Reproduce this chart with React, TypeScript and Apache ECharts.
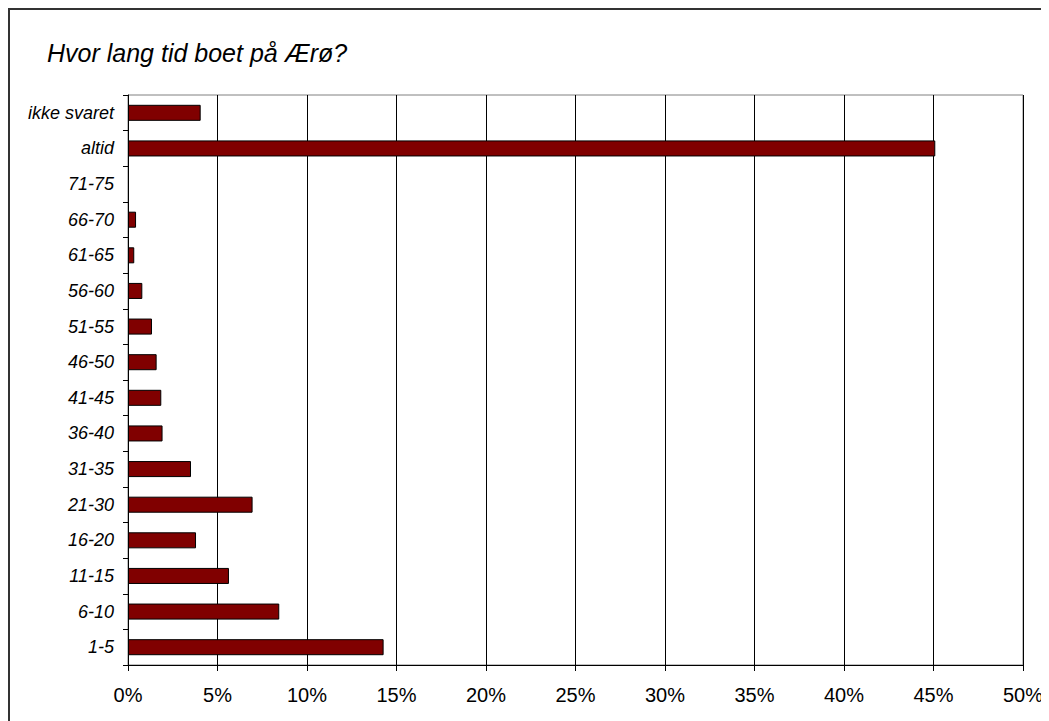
import React, { useEffect, useRef } from "react";
import * as echarts from "echarts";

const titleText = "Hvor lang tid boet på Ærø?";
const categories = [
  "1-5", "6-10", "11-15", "16-20", "21-30", "31-35", "36-40", "41-45",
  "46-50", "51-55", "56-60", "61-65", "66-70", "71-75", "altid", "ikke svaret",
];
const shares = [
  14.28, 8.45, 5.64, 3.8, 6.96, 3.52, 1.93, 1.86,
  1.6, 1.34, 0.8, 0.35, 0.45, 0, 45.1, 4.06,
];
const xMin = 0;
const xMax = 50;
const xStep = 5;

export default function App() {
  const ref = useRef<HTMLDivElement>(null);
  useEffect(() => {
    if (!ref.current) return;
    const chart = echarts.init(ref.current, undefined, { renderer: "svg" });
    const font = "'Liberation Sans', Arial, sans-serif";
    chart.setOption({
      animation: false,
      backgroundColor: "#ffffff",
      title: {
        text: titleText,
        left: 32,
        top: 25,
        textStyle: {
          fontFamily: font,
          fontStyle: "italic",
          fontWeight: "normal",
          fontSize: 25,
          color: "#000",
        },
      },
      grid: {
        left: 118,
        top: 85,
        right: 26,
        bottom: 56,
        show: true,
        borderColor: "#808080",
        borderWidth: 1,
        backgroundColor: "#fff",
      },
      xAxis: {
        type: "value",
        min: xMin,
        max: xMax,
        interval: xStep,
        axisLine: { show: true, lineStyle: { color: "#000", width: 1 } },
        axisTick: { show: true, length: 6, lineStyle: { color: "#000" } },
        splitLine: { show: true, lineStyle: { color: "#000", width: 1 } },
        axisLabel: {
          formatter: "{value}%",
          fontFamily: font,
          fontSize: 20,
          color: "#000",
          margin: 20,
        },
      },
      yAxis: {
        type: "category",
        data: categories,
        axisLine: { show: true, lineStyle: { color: "#000", width: 1 } },
        axisTick: { show: true, length: 5, lineStyle: { color: "#000" } },
        axisLabel: {
          fontFamily: font,
          fontStyle: "italic",
          fontSize: 18,
          color: "#000",
          margin: 14,
        },
      },
      series: [
        {
          type: "bar",
          data: shares.map((v) =>
            v === 0 ? { value: v, itemStyle: { borderWidth: 0 } } : v
          ),
          barWidth: "45%",
          itemStyle: { color: "#800000", borderColor: "#000", borderWidth: 1 },
        },
      ],
    });
    return () => chart.dispose();
  }, []);
  return (
    <div
      style={{
        width: 1041,
        height: 713,
        boxSizing: "border-box",
        borderLeft: "2px solid #333",
        borderTop: "2px solid #333",
      }}
    >
      <div ref={ref} style={{ width: 1039, height: 711 }} />
    </div>
  );
}
